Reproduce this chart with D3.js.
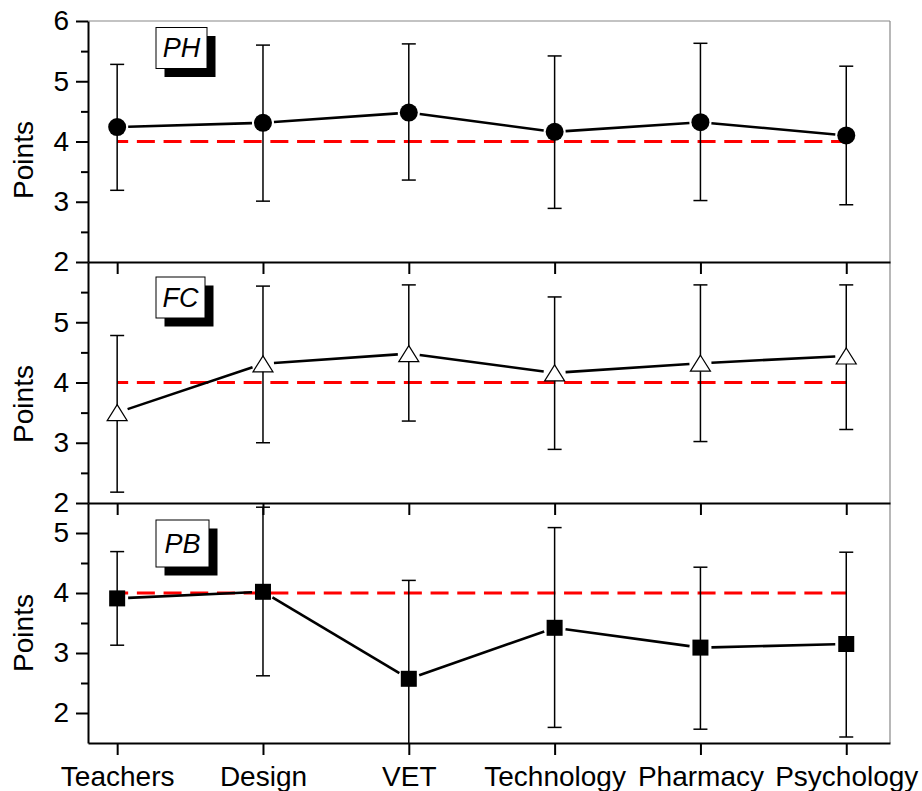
<!DOCTYPE html>
<html>
<head>
<meta charset="utf-8">
<script src="https://cdn.jsdelivr.net/npm/d3@7"></script>
<style>
  html, body { margin: 0; padding: 0; background: #fff; }
  svg { display: block; font-family: "Liberation Sans", Arial, sans-serif; }
</style>
</head>
<body>
<svg id="chart" width="922" height="791"></svg>
<script>
// ---- data ----
const categories = ["Teachers", "Design", "VET", "Technology", "Pharmacy", "Psychology"];
const refValue = 4;

const phMean = [4.24, 4.31, 4.48, 4.16, 4.32, 4.10];
const phLow  = [3.19, 3.01, 3.36, 2.89, 3.02, 2.95];
const phHigh = [5.28, 5.60, 5.62, 5.42, 5.63, 5.25];

const fcMean = [3.50, 4.31, 4.48, 4.16, 4.32, 4.44];
const fcLow  = [2.18, 3.00, 3.36, 2.89, 3.02, 3.22];
const fcHigh = [4.78, 5.60, 5.62, 5.42, 5.62, 5.62];

const pbMean = [3.91, 4.02, 2.57, 3.42, 3.09, 3.15];
const pbLow  = [3.13, 2.62, 0.93, 1.76, 1.73, 1.60];
const pbHigh = [4.69, 5.43, 4.21, 5.09, 4.43, 4.68];

const phTicks = [2, 3, 4, 5, 6];
const fcTicks = [2, 3, 4, 5];
const pbTicks = [2, 3, 4, 5];
const phMinor = [2.5, 3.5, 4.5, 5.5];
const fcMinor = [2.5, 3.5, 4.5, 5.5];
const pbMinor = [2.5, 3.5, 4.5];

// ---- layout ----
const left = 88, right = 890;
const fontSize = 28;
const panels = [
  { name: "PH", mean: phMean, low: phLow, high: phHigh, domain: [2, 6], top: 21, bottom: 262,
    ticks: phTicks, minor: phMinor, marker: "circle", box: [156, 27.5, 51, 41], ylab: 160 },
  { name: "FC", mean: fcMean, low: fcLow, high: fcHigh, domain: [2, 6], top: 262, bottom: 503,
    ticks: fcTicks, minor: fcMinor, marker: "triangle", box: [156, 277, 49, 41], ylab: 404 },
  { name: "PB", mean: pbMean, low: pbLow, high: pbHigh, domain: [1.5, 5.5], top: 503, bottom: 743,
    ticks: pbTicks, minor: pbMinor, marker: "square", box: [156, 520, 53, 47], ylab: 633 }
];

const svg = d3.select("#chart");
const x = d3.scaleLinear().domain([0.8, 6.3]).range([left, right]);
const idx = d3.range(1, categories.length + 1);

// outer gray frame (top and right)
svg.append("line").attr("x1", left).attr("x2", right).attr("y1", 21).attr("y2", 21)
  .attr("stroke", "#888").attr("stroke-width", 1.2);
svg.append("line").attr("x1", right).attr("x2", right).attr("y1", 21).attr("y2", 743)
  .attr("stroke", "#888").attr("stroke-width", 1.2);

panels.forEach((p, pi) => {
  const y = d3.scaleLinear().domain(p.domain).range([p.bottom, p.top]);
  const g = svg.append("g");

  const clipId = "clip" + pi;
  svg.append("clipPath").attr("id", clipId).append("rect")
    .attr("x", left).attr("y", p.top).attr("width", right - left).attr("height", p.bottom - p.top);
  const plot = g.append("g").attr("clip-path", `url(#${clipId})`);

  // reference dashed line
  plot.append("line")
    .attr("x1", x(1)).attr("x2", x(categories.length))
    .attr("y1", y(refValue)).attr("y2", y(refValue))
    .attr("stroke", "#f00").attr("stroke-width", 3)
    .attr("stroke-dasharray", "18,8.7").attr("stroke-dashoffset", 7);

  // error bars
  const eb = plot.append("g").attr("stroke", "#000").attr("stroke-width", 1.5).attr("fill", "none");
  idx.forEach((v, i) => {
    const cx = x(v);
    eb.append("line").attr("x1", cx).attr("x2", cx).attr("y1", y(p.low[i])).attr("y2", y(p.high[i]));
    eb.append("line").attr("x1", cx - 7).attr("x2", cx + 7).attr("y1", y(p.low[i])).attr("y2", y(p.low[i]));
    eb.append("line").attr("x1", cx - 7).attr("x2", cx + 7).attr("y1", y(p.high[i])).attr("y2", y(p.high[i]));
  });

  // connecting line segments (trimmed near markers)
  const trim = 11;
  for (let i = 0; i < idx.length - 1; i++) {
    const x0 = x(idx[i]), y0 = y(p.mean[i]), x1 = x(idx[i + 1]), y1 = y(p.mean[i + 1]);
    const dx = x1 - x0, dy = y1 - y0, len = Math.hypot(dx, dy);
    const ux = dx / len, uy = dy / len;
    plot.append("line")
      .attr("x1", x0 + ux * trim).attr("y1", y0 + uy * trim)
      .attr("x2", x1 - ux * trim).attr("y2", y1 - uy * trim)
      .attr("stroke", "#000").attr("stroke-width", 2.6);
  }

  // markers
  const mk = plot.append("g");
  idx.forEach((v, i) => {
    const cx = x(v), cy = y(p.mean[i]);
    if (p.marker === "circle") {
      mk.append("circle").attr("cx", cx).attr("cy", cy).attr("r", 9).attr("fill", "#000");
    } else if (p.marker === "square") {
      mk.append("rect").attr("x", cx - 8).attr("y", cy - 8).attr("width", 16).attr("height", 16).attr("fill", "#000");
    } else {
      const w = 20, h = 16;
      mk.append("path")
        .attr("d", `M${cx},${cy - h / 2}L${cx + w / 2},${cy + h / 2}L${cx - w / 2},${cy + h / 2}Z`)
        .attr("fill", "#fff").attr("stroke", "#000").attr("stroke-width", 1.2);
    }
  });

  // left axis major
  const ay = g.append("g").attr("transform", `translate(${left},0)`)
    .call(d3.axisLeft(y).tickValues(p.ticks).tickSize(12).tickSizeOuter(0).tickPadding(7).tickFormat(d3.format("d")));
  ay.select(".domain").attr("stroke-width", 2);
  ay.selectAll(".tick line").attr("stroke-width", 2);
  ay.selectAll(".tick text").attr("font-size", fontSize).attr("fill", "#000")
    .attr("font-family", "'Liberation Sans', Arial, sans-serif");
  // minor ticks
  const am = g.append("g").attr("transform", `translate(${left},0)`)
    .call(d3.axisLeft(y).tickValues(p.minor).tickSize(7).tickSizeOuter(0).tickFormat(""));
  am.select(".domain").remove();
  am.selectAll(".tick line").attr("stroke-width", 2);

  // bottom axis
  const ax = g.append("g").attr("transform", `translate(0,${p.bottom})`)
    .call(d3.axisBottom(x).tickValues(idx).tickSize(12).tickSizeOuter(0).tickPadding(11)
      .tickFormat(pi === panels.length - 1 ? (d => categories[d - 1]) : ""));
  ax.select(".domain").attr("stroke-width", 2);
  ax.selectAll(".tick line").attr("stroke-width", 2);
  ax.selectAll(".tick text").attr("font-size", fontSize).attr("fill", "#000")
    .attr("font-family", "'Liberation Sans', Arial, sans-serif");

  // y label
  g.append("text")
    .attr("transform", `translate(33,${p.ylab}) rotate(-90)`)
    .attr("text-anchor", "middle")
    .attr("font-size", fontSize)
    .text("Points");

  // panel label box
  const [bx, by, bw, bh] = p.box;
  g.append("rect").attr("x", bx + 8.5).attr("y", by + 8.5).attr("width", bw).attr("height", bh).attr("fill", "#000");
  g.append("rect").attr("x", bx).attr("y", by).attr("width", bw).attr("height", bh)
    .attr("fill", "#fff").attr("stroke", "#000").attr("stroke-width", 1);
  g.append("text").attr("x", bx + bw / 2).attr("y", by + bh / 2)
    .attr("text-anchor", "middle").attr("dominant-baseline", "central")
    .attr("font-size", 27).attr("font-style", "italic")
    .text(p.name);
});
</script>
</body>
</html>
